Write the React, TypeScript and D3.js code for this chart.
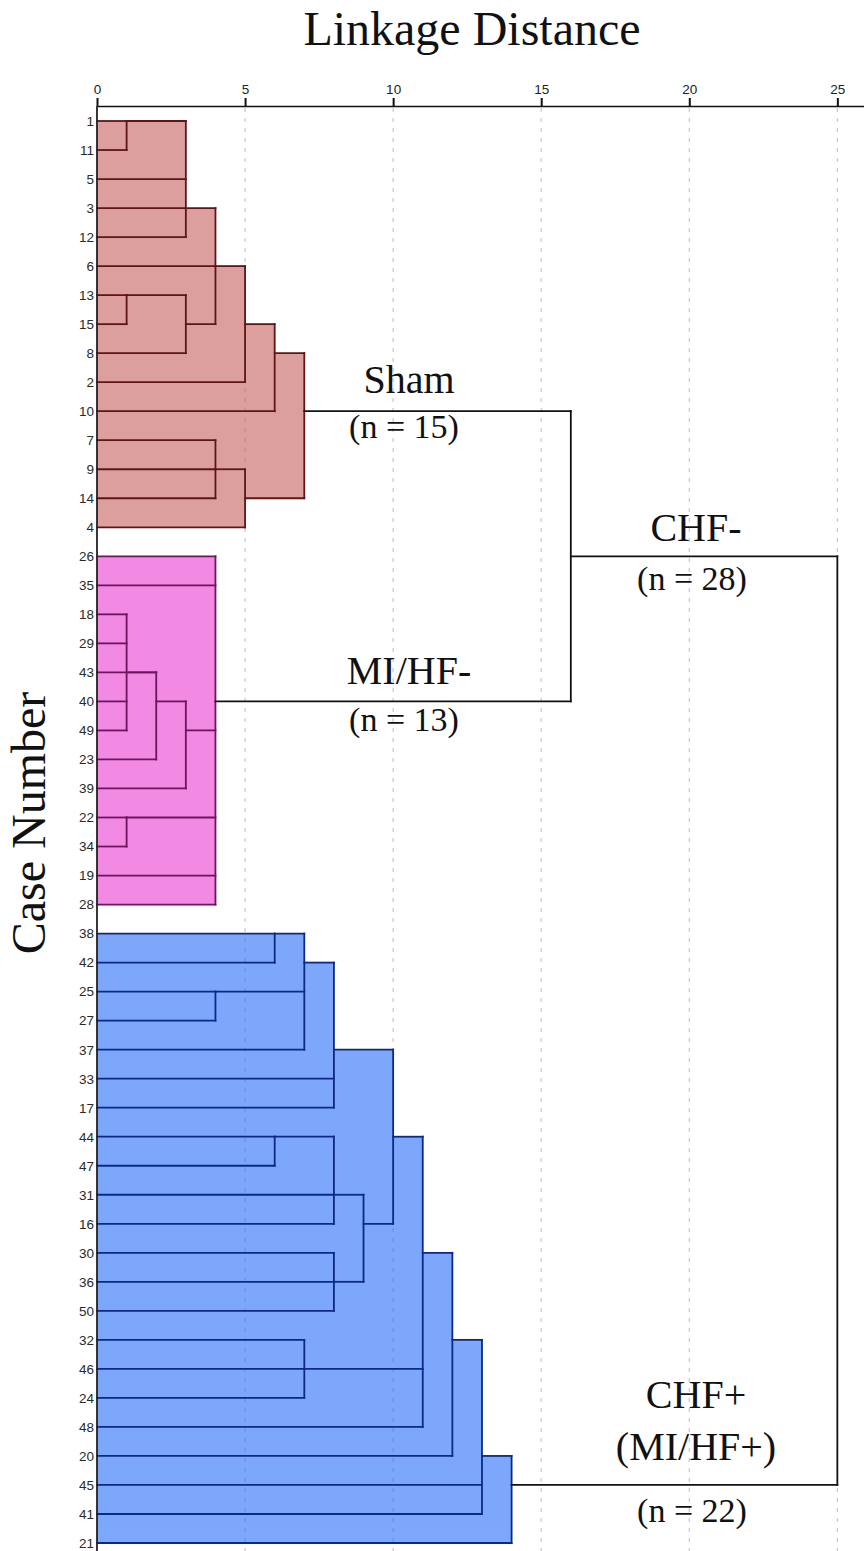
import React, { useEffect, useRef } from "react";
import * as d3 from "d3";

// Leaf order (top to bottom) of the dendrogram
const caseLabels = [
  "1", "11", "5", "3", "12", "6", "13", "15", "8", "2", "10", "7", "9", "14", "4",
  "26", "35", "18", "29", "43", "40", "49", "23", "39", "22", "34", "19", "28",
  "38", "42", "25", "27", "37", "33", "17", "44", "47", "31", "16", "30", "36", "50",
  "32", "46", "24", "48", "20", "45", "41", "21",
];

// Merge schedule: h = rescaled linkage distance, kids = cases or earlier merges,
// out = row index at which the merged cluster leaves the join
const shamMerges = [
  { id: "s1", h: 1, kids: ["1", "11"], out: 0 },
  { id: "s2", h: 3, kids: ["s1", "5", "3", "12"], out: 3 },
  { id: "s3", h: 1, kids: ["13", "15"], out: 6 },
  { id: "s4", h: 3, kids: ["s3", "8"], out: 7 },
  { id: "s5", h: 4, kids: ["s2", "6", "s4"], out: 5 },
  { id: "s6", h: 5, kids: ["s5", "2"], out: 7 },
  { id: "s7", h: 6, kids: ["s6", "10"], out: 8 },
  { id: "s8", h: 4, kids: ["7", "9", "14"], out: 12 },
  { id: "s9", h: 5, kids: ["s8", "4"], out: 13 },
  { id: "s10", h: 7, kids: ["s7", "s9"], out: 10 },
];

const mihfMerges = [
  { id: "m1", h: 1, kids: ["18", "29", "40", "49"], out: 19 },
  { id: "m2", h: 2, kids: ["m1", "43", "23"], out: 20 },
  { id: "m3", h: 3, kids: ["m2", "39"], out: 21 },
  { id: "m4", h: 1, kids: ["22", "34"], out: 24 },
  { id: "m5", h: 4, kids: ["26", "35", "m3", "m4", "19", "28"], out: 20 },
];

const chfMerges = [
  { id: "c1", h: 6, kids: ["38", "42"], out: 28 },
  { id: "c2", h: 4, kids: ["25", "27"], out: 30 },
  { id: "c3", h: 7, kids: ["c1", "c2", "37"], out: 29 },
  { id: "c4", h: 8, kids: ["c3", "33", "17"], out: 32 },
  { id: "c5", h: 6, kids: ["44", "47"], out: 35 },
  { id: "c6", h: 8, kids: ["c5", "31", "16"], out: 37 },
  { id: "c7", h: 8, kids: ["30", "36", "50"], out: 40 },
  { id: "c8", h: 9, kids: ["c6", "c7"], out: 38 },
  { id: "c9", h: 10, kids: ["c4", "c8"], out: 35 },
  { id: "c10", h: 7, kids: ["32", "46", "24"], out: 43 },
  { id: "c11", h: 11, kids: ["c9", "c10", "48"], out: 39 },
  { id: "c12", h: 12, kids: ["c11", "20"], out: 42 },
  { id: "c13", h: 13, kids: ["c12", "45", "41"], out: 46 },
  { id: "c14", h: 14, kids: ["c13", "21"], out: 47 },
];

const topMerges = [
  { id: "t1", h: 16, kids: ["s10", "m5"], out: 15 },
  { id: "t2", h: 25, kids: ["t1", "c14"], out: 31 },
];

const xTicks = [0, 5, 10, 15, 20, 25];

const groups = [
  { key: "sham", merges: shamMerges, fill: "rgb(200,95,95)", line: "#5e1515" },
  { key: "mihf", merges: mihfMerges, fill: "rgb(235,60,210)", line: "#6e145f" },
  { key: "chf", merges: chfMerges, fill: "rgb(40,110,250)", line: "#0c2a85" },
  { key: "top", merges: topMerges, fill: null, line: "#111" },
];

const W = 864;
const H = 1551;

export default function App() {
  const axisRef = useRef<SVGGElement>(null);

  const x = d3.scaleLinear().domain([0, 25.9]).range([97, 864]);
  const y = d3.scaleLinear().domain([0, caseLabels.length - 1]).range([121, 1543]);

  // layout
  const pos = new Map<string, { row: number; h: number }>();
  caseLabels.forEach((c, i) => pos.set(c, { row: i, h: 0 }));
  const built = groups.map((g) => {
    const rects: { x0: number; x1: number; y0: number; y1: number }[] = [];
    const segs: { x1: number; y1: number; x2: number; y2: number }[] = [];
    g.merges.forEach((m) => {
      const kids = m.kids.map((k) => pos.get(k)!);
      const rows = kids.map((k) => k.row);
      const r0 = d3.min(rows)!;
      const r1 = d3.max(rows)!;
      kids.forEach((k) => segs.push({ x1: x(k.h), y1: y(k.row), x2: x(m.h), y2: y(k.row) }));
      segs.push({ x1: x(m.h), y1: y(r0), x2: x(m.h), y2: y(r1) });
      rects.push({ x0: x(0), x1: x(m.h), y0: y(r0), y1: y(r1) });
      pos.set(m.id, { row: m.out, h: m.h });
    });
    return { ...g, rects, segs };
  });

  useEffect(() => {
    if (!axisRef.current) return;
    const g = d3.select(axisRef.current);
    g.selectAll("*").remove();
    g.call(d3.axisTop(x).tickValues(xTicks).tickSize(8).tickSizeOuter(0).tickFormat(d3.format("d")));
    g.select(".domain").attr("stroke", "#111").attr("stroke-width", 1.6);
    g.selectAll(".tick line").attr("stroke", "#111").attr("stroke-width", 2);
    g.selectAll(".tick text")
      .attr("font-family", "'Liberation Sans', Arial, sans-serif")
      .attr("font-size", 13.5)
      .attr("fill", "#222")
      .attr("dy", "-0.1em");
  }, []);

  return (
    <svg width={W} height={H} style={{ position: "absolute", left: 0, top: 0, background: "#fff" }}>
      <rect x={0} y={0} width={W} height={H} fill="#fff" />
      {/* grid */}
      {xTicks.filter((t) => t > 0).map((t) => (
        <line key={t} x1={x(t)} x2={x(t)} y1={108} y2={H} stroke="#c8c8c8" strokeWidth={1.2} strokeDasharray="4,6" />
      ))}
      {/* cluster fills */}
      {built.filter((g) => g.fill).map((g) => (
        <g key={g.key + "f"} opacity={0.6}>
          {g.rects.map((r, i) => (
            <rect key={i} x={r.x0} y={r.y0} width={r.x1 - r.x0} height={r.y1 - r.y0} fill={g.fill!} />
          ))}
        </g>
      ))}
      {/* links */}
      {built.map((g) => (
        <g key={g.key + "l"} stroke={g.line} strokeWidth={1.8} strokeLinecap="square">
          {g.segs.map((s, i) => (
            <line key={i} x1={s.x1} y1={s.y1} x2={s.x2} y2={s.y2} />
          ))}
        </g>
      ))}
      {/* axes */}
      <g ref={axisRef} transform="translate(0,106)" />
      <line x1={x(0)} x2={x(0)} y1={106} y2={H} stroke="#222" strokeWidth={1.8} />
      <g fontFamily="'Liberation Sans', Arial, sans-serif" fontSize={13.5} fill="#2a2a2a" textAnchor="end">
        {caseLabels.map((c, i) => (
          <text key={c} x={x(0) - 3} y={y(i)} dy="0.36em">{c}</text>
        ))}
      </g>
      {/* titles */}
      <g fontFamily="'Liberation Serif', 'Times New Roman', serif" fill="#111" textAnchor="middle">
        <text x={472} y={45} fontSize={48}>Linkage Distance</text>
        <text transform="translate(45,823) rotate(-90)" fontSize={48}>Case Number</text>
        <text x={409} y={393} fontSize={40}>Sham</text>
        <text x={404} y={438} fontSize={34}>(n = 15)</text>
        <text x={409} y={684} fontSize={40}>MI/HF-</text>
        <text x={404} y={731} fontSize={34}>(n = 13)</text>
        <text x={696} y={541} fontSize={40}>CHF-</text>
        <text x={692} y={590} fontSize={34}>(n = 28)</text>
        <text x={696} y={1408} fontSize={40}>CHF+</text>
        <text x={696} y={1460} fontSize={40}>(MI/HF+)</text>
        <text x={692} y={1522} fontSize={34}>(n = 22)</text>
      </g>
    </svg>
  );
}
